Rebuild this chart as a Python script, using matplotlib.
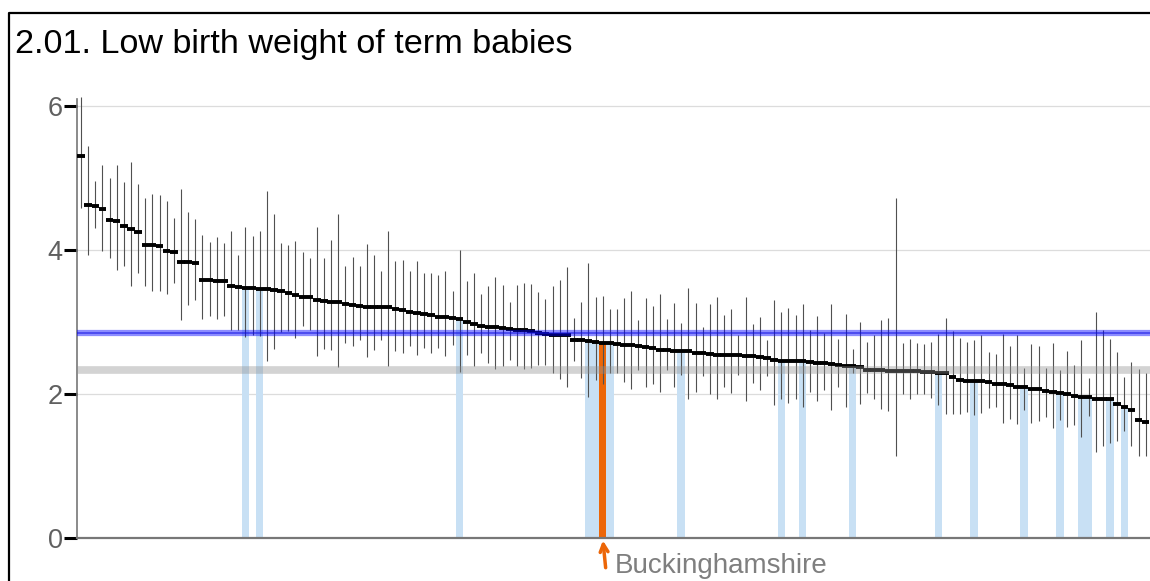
import numpy as np
import matplotlib
matplotlib.use('Agg')
import matplotlib.pyplot as plt
from matplotlib.lines import Line2D

plt.rcParams['font.family'] = ['Liberation Sans', 'DejaVu Sans']

title = '2.01. Low birth weight of term babies'
highlight_name = 'Buckinghamshire'

# значения по районам (отсортированы по убыванию), нижняя и верхняя граница ДИ
values = [5.30, 4.62, 4.61, 4.56, 4.41, 4.40, 4.33, 4.29, 4.25, 4.07,
          4.06, 4.05, 3.98, 3.97, 3.83, 3.83, 3.82, 3.58, 3.58, 3.57,
          3.57, 3.50, 3.48, 3.47, 3.47, 3.46, 3.45, 3.44, 3.43, 3.40,
          3.37, 3.34, 3.34, 3.30, 3.29, 3.28, 3.28, 3.24, 3.23, 3.22,
          3.20, 3.20, 3.20, 3.20, 3.17, 3.16, 3.14, 3.12, 3.11, 3.09,
          3.07, 3.06, 3.05, 3.04, 3.00, 2.97, 2.94, 2.93, 2.92, 2.91,
          2.90, 2.89, 2.89, 2.87, 2.85, 2.83, 2.82, 2.82, 2.81, 2.75,
          2.74, 2.73, 2.72, 2.70, 2.70, 2.69, 2.68, 2.67, 2.66, 2.65,
          2.63, 2.61, 2.61, 2.59, 2.59, 2.59, 2.57, 2.57, 2.55, 2.54,
          2.54, 2.54, 2.54, 2.53, 2.52, 2.51, 2.49, 2.47, 2.46, 2.45,
          2.45, 2.45, 2.44, 2.43, 2.42, 2.41, 2.40, 2.39, 2.38, 2.37,
          2.33, 2.33, 2.33, 2.32, 2.32, 2.32, 2.31, 2.31, 2.30, 2.30,
          2.29, 2.29, 2.23, 2.19, 2.18, 2.17, 2.17, 2.16, 2.14, 2.13,
          2.12, 2.10, 2.09, 2.07, 2.06, 2.04, 2.03, 2.01, 2.00, 1.97,
          1.96, 1.95, 1.93, 1.93, 1.92, 1.86, 1.81, 1.77, 1.64, 1.61]

upper = [6.12, 5.44, 4.96, 5.17, 4.99, 5.17, 4.94, 5.22, 4.91, 4.72,
         4.77, 4.76, 4.67, 4.44, 4.85, 4.53, 4.43, 4.20, 4.11, 4.17,
         4.10, 4.26, 3.93, 4.31, 4.19, 4.26, 4.81, 4.50, 4.10, 4.06,
         4.12, 3.97, 3.89, 4.32, 3.88, 4.13, 4.49, 3.77, 3.90, 3.78,
         4.08, 3.93, 3.70, 4.26, 3.85, 3.86, 3.71, 3.85, 3.68, 3.68,
         3.65, 3.71, 3.42, 4.00, 3.57, 3.68, 3.39, 3.50, 3.62, 3.51,
         3.28, 3.51, 3.54, 3.53, 3.41, 3.32, 3.50, 3.58, 3.76, 3.05,
         3.27, 3.82, 3.34, 3.36, 3.18, 3.18, 3.33, 3.43, 3.03, 3.33,
         3.22, 3.38, 3.04, 3.26, 2.98, 3.47, 3.26, 2.93, 3.24, 3.34,
         3.10, 3.18, 2.81, 3.34, 2.97, 3.07, 2.75, 3.30, 3.14, 3.19,
         3.10, 3.25, 2.89, 3.08, 2.85, 3.25, 2.76, 3.11, 2.62, 3.00,
         2.72, 2.81, 3.02, 3.05, 4.72, 2.70, 2.76, 2.71, 2.69, 2.72,
         2.83, 3.05, 2.87, 2.77, 2.72, 2.74, 2.81, 2.58, 2.55, 2.83,
         2.66, 2.81, 2.36, 2.69, 2.66, 2.36, 2.70, 2.33, 2.60, 2.40,
         2.75, 2.22, 3.13, 2.88, 2.76, 2.58, 2.23, 2.44, 2.34, 2.29]

lower = [4.58, 3.93, 4.30, 3.98, 3.88, 3.72, 3.78, 3.50, 3.68, 3.49,
         3.43, 3.43, 3.38, 3.54, 3.02, 3.23, 3.30, 3.04, 3.08, 3.04,
         3.08, 2.88, 2.88, 2.79, 2.81, 2.80, 2.46, 2.62, 2.86, 2.87,
         2.77, 2.94, 2.89, 2.52, 2.62, 2.61, 2.37, 2.70, 2.66, 2.75,
         2.51, 2.61, 2.75, 2.38, 2.59, 2.56, 2.66, 2.54, 2.63, 2.57,
         2.63, 2.52, 2.67, 2.30, 2.54, 2.39, 2.56, 2.43, 2.34, 2.39,
         2.47, 2.39, 2.34, 2.36, 2.40, 2.40, 2.29, 2.20, 2.10, 2.46,
         2.22, 1.95, 2.19, 2.13, 2.29, 2.29, 2.16, 2.06, 2.33, 2.10,
         2.13, 2.02, 2.33, 2.09, 2.26, 1.93, 2.03, 2.24, 2.00, 1.92,
         2.09, 2.01, 2.26, 1.90, 2.15, 2.05, 2.25, 1.84, 1.92, 1.87,
         1.92, 1.81, 2.03, 1.90, 2.05, 1.77, 2.09, 1.82, 2.29, 1.86,
         2.01, 1.93, 1.79, 1.76, 1.13, 1.99, 1.92, 1.99, 1.99, 1.94,
         1.85, 1.72, 1.72, 1.72, 1.75, 1.71, 1.73, 1.80, 1.82, 1.59,
         1.65, 1.58, 1.78, 1.60, 1.62, 1.68, 1.52, 1.64, 1.54, 1.57,
         1.40, 1.69, 1.19, 1.27, 1.32, 1.34, 1.48, 1.28, 1.13, 1.13]

# номера районов-сравнений (голубые) и выделенного района
comparators = [24, 26, 54, 72, 73, 75, 85, 99, 102, 109,
               121, 126, 133, 138, 141, 142, 145, 147]
highlight = 74

england_value = 2.85
comparator_value = 2.33

yticks = [0, 2, 4, 6]

values = np.array(values)
x = np.arange(1, len(values) + 1)

fig = plt.figure(figsize=(11.5, 5.81), dpi=100)
ax = fig.add_axes([77.3 / 1150, 1 - 537.7 / 581, 1 - 77.3 / 1150, 6.2 * 72 / 581])

# сетка
for t in yticks[1:]:
    ax.axhline(t, color='#dcdcdc', lw=0.9, zorder=0)

# столбики сравнения и выделенный район
comp_idx = np.array(comparators) - 1
ax.bar(x[comp_idx], values[comp_idx], width=1.05, color='#c8e0f4', zorder=1)
ax.bar(x[highlight - 1], values[highlight - 1], width=0.9, color='#ec6608', zorder=2)

# доверительные интервалы
ax.vlines(x, lower, upper, color='#505050', lw=0.8, zorder=3)

# значения
ax.hlines(values, x - 0.52, x + 0.52, color='black', lw=2.8, zorder=4)

# опорные линии
ax.axhline(comparator_value, color='#919191', alpha=0.4, lw=5.5, zorder=5)
ax.axhline(england_value, color='#0000ff', alpha=0.45, lw=4.5, zorder=5)
ax.axhline(england_value, color='#1010e0', alpha=0.6, lw=1.2, zorder=6)

ax.set_xlim(0.48, 150.6)
ax.set_ylim(0, 6.2)
ax.set_xticks([])
ax.set_yticks(yticks)
ax.set_yticklabels([str(t) for t in yticks], fontsize=19.5, color='#606060')
ax.tick_params(axis='y', length=9.5, width=2.2, color='black', pad=1)

for s in ['top', 'right']:
    ax.spines[s].set_visible(False)
ax.spines['left'].set_bounds(0, 6.1)
ax.spines['left'].set_color('#777777')
ax.spines['left'].set_linewidth(1.2)
ax.spines['bottom'].set_color('#777777')
ax.spines['bottom'].set_linewidth(1.6)

# стрелка и подпись выделенного района
ax.annotate('', xy=(highlight, 0), xytext=(3, -30), textcoords='offset pixels',
            arrowprops=dict(arrowstyle='->', color='#ec6608', lw=2.5,
                            shrinkA=0, shrinkB=2, mutation_scale=14),
            annotation_clip=False)
ax.annotate(highlight_name, xy=(highlight, 0), xytext=(12, -35),
            textcoords='offset pixels', fontsize=20, color='#7f7f7f',
            ha='left', va='baseline', annotation_clip=False)

fig.text(15 / 1150, 1 - 53 / 581, title, fontsize=24.6, color='black',
         ha='left', va='baseline')

# рамка
fig.add_artist(Line2D([9.3 / 1150, 9.3 / 1150, 1], [0, 1 - 12.8 / 581, 1 - 12.8 / 581],
                      transform=fig.transFigure, color='black', lw=1.6))

fig.savefig('out.png', dpi=100)
